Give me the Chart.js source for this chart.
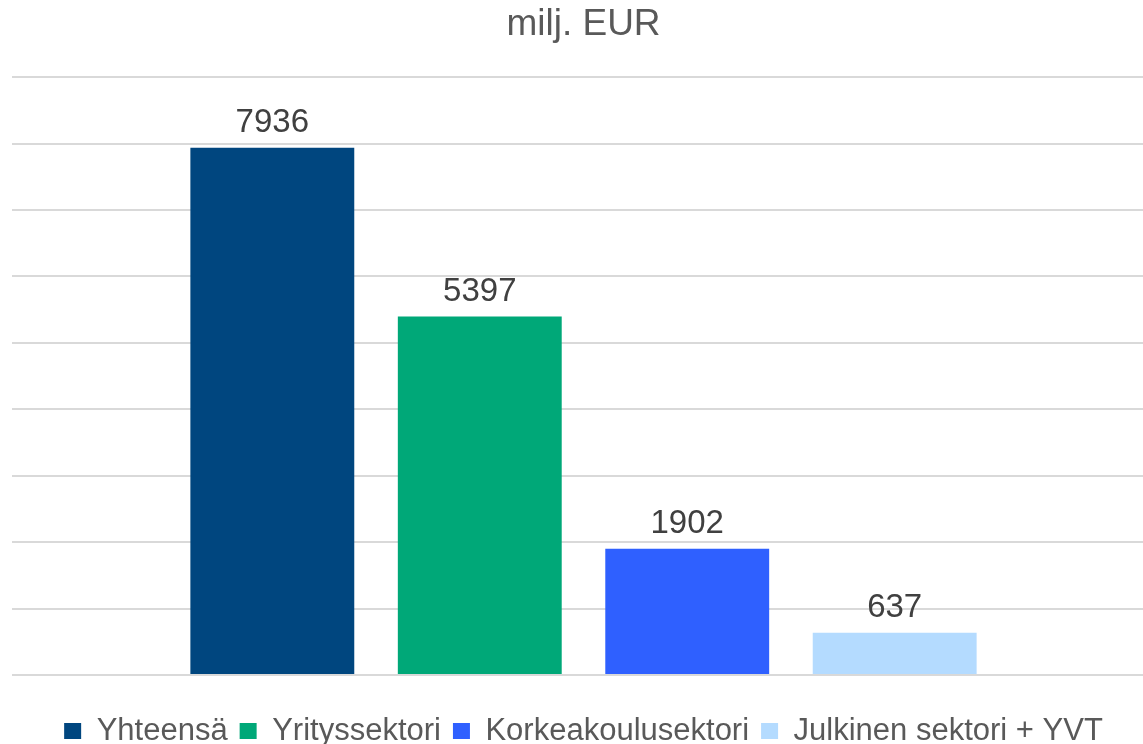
<!DOCTYPE html>
<html>
<head>
<meta charset="utf-8">
<script src="https://cdn.jsdelivr.net/npm/chart.js@4"></script>
<style>
  html, body { margin: 0; padding: 0; background: #fff; overflow: hidden; }
  #wrap { width: 1164px; height: 760px; position: relative; }
</style>
</head>
<body>
<div id="wrap"><canvas id="barsRD"></canvas></div>
<script>
const categories = ['milj. EUR'];
const seriesNames = ['Yhteensä', 'Yrityssektori', 'Korkeakoulusektori', 'Julkinen sektori + YVT'];
const totalValues = [7936];
const businessValues = [5397];
const universityValues = [1902];
const publicValues = [637];
const seriesColors = ['#00467f', '#00a878', '#2f60ff', '#b4dbff'];

const FONT = '"Liberation Sans", Arial, sans-serif';

// draw the numbers above each bar
const valueLabels = {
  id: 'valueLabels',
  afterDatasetsDraw(chart) {
    const ctx = chart.ctx;
    ctx.save();
    ctx.font = '33px ' + FONT;
    ctx.fillStyle = '#404040';
    ctx.textAlign = 'center';
    ctx.textBaseline = 'alphabetic';
    chart.data.datasets.forEach((ds, i) => {
      const meta = chart.getDatasetMeta(i);
      meta.data.forEach((bar, j) => {
        ctx.fillText(String(ds.data[j]), bar.x, bar.y - 16);
      });
    });
    ctx.restore();
  }
};

const allValues = [totalValues, businessValues, universityValues, publicValues];

const barConfig = {
  type: 'bar',
  data: {
    labels: categories,
    datasets: seriesNames.map((name, i) => ({
      label: name,
      backgroundColor: seriesColors[i],
      borderWidth: 0,
      data: allValues[i],
      categoryPercentage: 0.726,
      barPercentage: 0.79,
    })),
  },
  options: {
    responsive: true,
    maintainAspectRatio: false,
    animation: false,
    layout: {
      padding: { left: 12, right: 9, top: 0, bottom: 3.5 },
    },
    plugins: {
      title: {
        display: true,
        text: 'milj. EUR',
        color: '#595959',
        font: { family: FONT, size: 37, weight: 'normal' },
        padding: { top: 2.3, bottom: 30.5 },
      },
      legend: {
        display: true,
        position: 'bottom',
        labels: {
          boxWidth: 17,
          boxHeight: 16,
          padding: 12,
          color: '#595959',
          font: { family: FONT, size: 31 },
        },
      },
      tooltip: { enabled: false },
    },
    scales: {
      x: {
        display: true,
        grid: { display: false },
        border: { display: false },
        ticks: { display: false },
        // empty title only keeps space between the plot and the legend
        title: { display: true, text: '', font: { size: 10 }, padding: { top: 8.5, bottom: 0 } },
      },
      y: {
        min: 0,
        max: 9000,
        ticks: { display: false, stepSize: 1000 },
        border: { display: false },
        grid: { color: '#d9d9d9', lineWidth: 2, drawTicks: false },
      },
    },
  },
  plugins: [valueLabels],
};

const barsCtx = document.getElementById('barsRD');
window.myBar = new Chart(barsCtx, barConfig);
</script>
</body>
</html>
